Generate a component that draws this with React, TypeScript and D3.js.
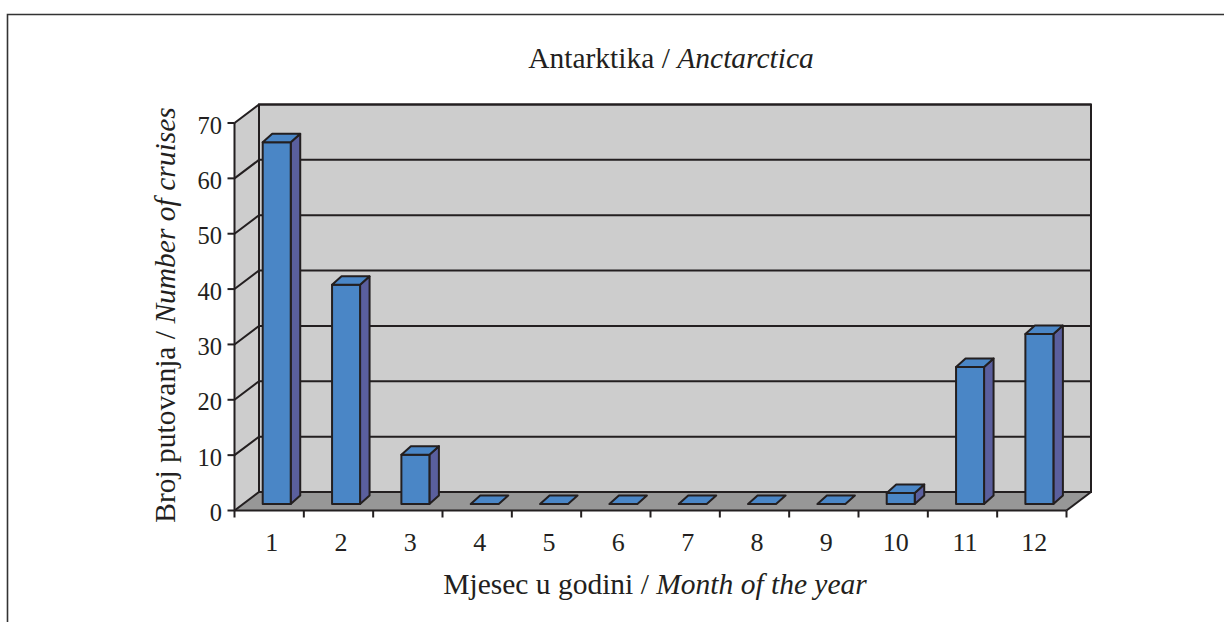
import React from 'react';
import * as d3 from 'd3';

const months = ['1', '2', '3', '4', '5', '6', '7', '8', '9', '10', '11', '12'];
const cruises = [66, 40, 9, 0, 0, 0, 0, 0, 0, 2, 25, 31];
const yTicks = [0, 10, 20, 30, 40, 50, 60, 70];

const W = 1224;
const H = 622;
const FONT = '"Liberation Serif", "Times New Roman", serif';
const INK = '#231f20';

// front plane of the 3d box
const left = 234.5;
const right = 1066.5;
const bottom = 510.5;
const top = 123;
// depth of the box (back wall offset)
const depth = { dx: 24.5, dy: -18.5 };
// bar position inside the depth and its own thickness
const barFront = { dx: 0, dy: -6.5 };
const barDepth = { dx: 9.5, dy: -8.5 };

function App() {
  const x = d3.scaleBand<string>().domain(months).range([left, right]);
  const y = d3.scaleLinear().domain([0, 70]).range([bottom, top]);
  // bars sit a little way into the box
  const yBar = d3.scaleLinear().domain([0, 70]).range([bottom + barFront.dy, 120.4]);
  const bw = x.bandwidth();

  const pts = (p: [number, number][]) => p.map(d => d.join(',')).join(' ');

  const bl: [number, number] = [left, bottom];
  const br: [number, number] = [right, bottom];
  const tl: [number, number] = [left, top];
  const bbl: [number, number] = [left + depth.dx, bottom + depth.dy];
  const bbr: [number, number] = [right + depth.dx, bottom + depth.dy];
  const btl: [number, number] = [left + depth.dx, top + depth.dy];
  const btr: [number, number] = [right + depth.dx, top + depth.dy];

  return (
    <svg width={W} height={H} style={{ position: 'absolute', left: 0, top: 0, background: '#fff' }}>
      {/* frame */}
      <path d={`M7.5,${H} L7.5,14.5 L${W},14.5`} fill="none" stroke="#333" strokeWidth={1.6} />

      {/* title */}
      <text x={671} y={68} textAnchor="middle" fontFamily={FONT} fontSize={29.5} fill={INK}>
        Antarktika / <tspan fontStyle="italic">Anctarctica</tspan>
      </text>

      {/* walls */}
      <polygon points={pts([bl, tl, btl, bbl])} fill="#cdcdcd" stroke="none" />
      <polygon points={pts([bbl, btl, btr, bbr])} fill="#cdcdcd" stroke={INK} strokeWidth={2} />
      <polygon points={pts([bl, br, bbr, bbl])} fill="#979797" stroke="none" />

      {/* gridlines on side and back wall */}
      {yTicks.map(t => (
        <path
          key={'g' + t}
          d={`M${left},${y(t)} L${left + depth.dx},${y(t) + depth.dy} L${right + depth.dx},${y(t) + depth.dy}`}
          fill="none"
          stroke={INK}
          strokeWidth={2}
        />
      ))}
      <line x1={right} y1={bottom} x2={right + depth.dx} y2={bottom + depth.dy} stroke={INK} strokeWidth={2} />

      {/* bars */}
      {months.map((m, i) => {
        const v = cruises[i];
        const xl = (x(m) as number) + bw * 0.407 + barFront.dx;
        const xr = xl + bw * 0.404;
        const yb = yBar(0);
        const yt = yBar(v);
        const { dx, dy } = barDepth;
        return (
          <g key={m} stroke={INK} strokeWidth={2} strokeLinejoin="round">
            {v > 0 && (
              <>
                <polygon points={pts([[xr, yt], [xr + dx, yt + dy], [xr + dx, yb + dy], [xr, yb]])} fill="#5a5f9e" />
                <rect x={xl} y={yt} width={xr - xl} height={yb - yt} fill="#4a86c6" />
              </>
            )}
            <polygon points={pts([[xl, yt], [xr, yt], [xr + dx, yt + dy], [xl + dx, yt + dy]])} fill="#4a86c6" />
          </g>
        );
      })}

      {/* y axis */}
      <line x1={left} y1={top} x2={left} y2={bottom} stroke={INK} strokeWidth={2} />
      {yTicks.map(t => (
        <g key={'y' + t}>
          <line x1={left - 7} x2={left} y1={y(t)} y2={y(t)} stroke={INK} strokeWidth={2} />
          <text x={222} y={y(t) + 10.5} textAnchor="end" fontFamily={FONT} fontSize={24.5} fill={INK}>
            {t}
          </text>
        </g>
      ))}

      {/* x axis */}
      <line x1={left} y1={bottom} x2={right} y2={bottom} stroke={INK} strokeWidth={2} />
      {[...months.map(m => x(m) as number), right].map((p, i) => (
        <line key={'xt' + i} x1={p} x2={p} y1={bottom} y2={bottom + 7} stroke={INK} strokeWidth={2} />
      ))}
      {months.map(m => (
        <text key={'xl' + m} x={(x(m) as number) + bw / 2 + 2.5} y={551} textAnchor="middle" fontFamily={FONT} fontSize={26} fill={INK}>
          {m}
        </text>
      ))}

      {/* axis titles */}
      <text x={655} y={594} textAnchor="middle" fontFamily={FONT} fontSize={29.5} fill={INK}>
        Mjesec u godini / <tspan fontStyle="italic">Month of the year</tspan>
      </text>
      <text transform="translate(175,315) rotate(-90)" textAnchor="middle" fontFamily={FONT} fontSize={29.5} fill={INK}>
        Broj putovanja / <tspan fontStyle="italic">Number of cruises</tspan>
      </text>
    </svg>
  );
}

export default App;
